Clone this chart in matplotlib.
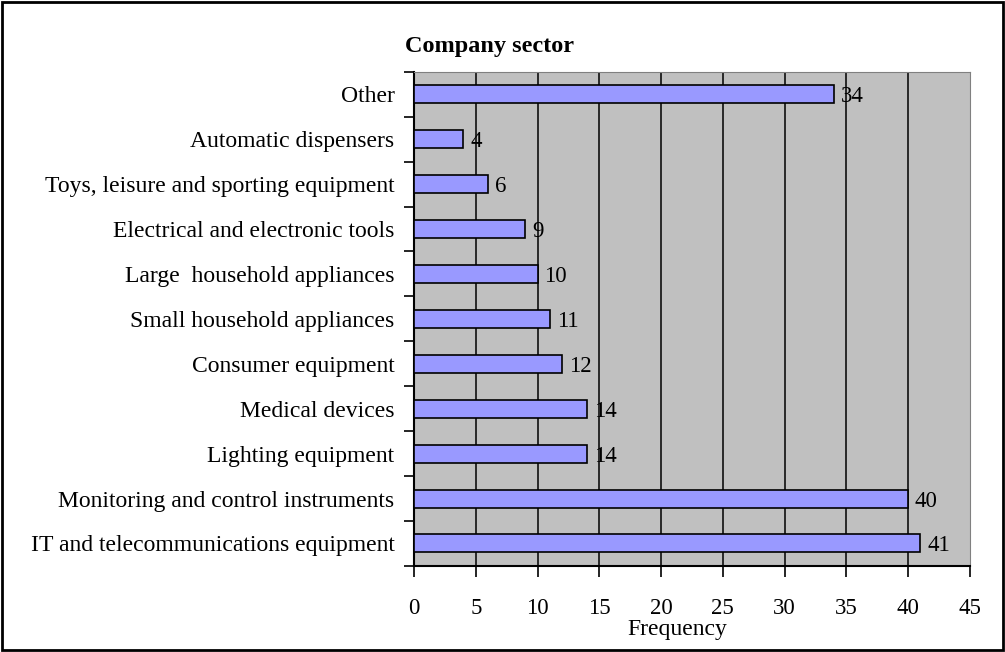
import numpy as np
import matplotlib.pyplot as plt
from matplotlib.patches import Rectangle

plt.rcParams['font.family'] = ['Liberation Serif', 'DejaVu Serif']

sectors = ['IT and telecommunications equipment', 'Monitoring and control instruments',
           'Lighting equipment', 'Medical devices', 'Consumer equipment',
           'Small household appliances', 'Large  household appliances',
           'Electrical and electronic tools', 'Toys, leisure and sporting equipment',
           'Automatic dispensers', 'Other']
freq = [41, 40, 14, 14, 12, 11, 10, 9, 6, 4, 34]
xticks = [0, 5, 10, 15, 20, 25, 30, 35, 40, 45]

fig = plt.figure(figsize=(10.05, 6.52), dpi=100)
ax = fig.add_axes([0.412, 0.132, 0.553, 0.758])
ax.set_facecolor('#c0c0c0')

y = np.arange(len(sectors))
ax.barh(y, freq, height=0.4, color='#9999ff', edgecolor='black', linewidth=1.2, zorder=3)
for yi, v in zip(y, freq):
    ax.text(v + 0.55, yi, str(v), va='center_baseline', ha='left', fontsize=16.5, zorder=4)

ax.set_xlim(0, 45)
ax.set_ylim(-0.5, len(sectors) - 0.5)
ax.set_xticks(xticks)
ax.set_xticklabels([str(t) for t in xticks], fontsize=16.5)
ax.set_yticks(y)
ax.set_yticklabels(sectors, fontsize=17, va='center_baseline')
ax.set_yticks(np.arange(-0.5, len(sectors)), minor=True)
ax.tick_params(axis='y', which='major', length=0, pad=14)
ax.tick_params(axis='y', which='minor', length=7, width=1.2, color='black')
ax.tick_params(axis='x', which='major', length=8, width=1.2, pad=15)

for t in xticks[1:-1]:
    ax.axvline(t, color='black', lw=1.1, zorder=2)

ax.spines['left'].set_linewidth(1.5)
ax.spines['bottom'].set_linewidth(1.5)
ax.spines['top'].set_color('#808080')
ax.spines['right'].set_color('#808080')

ax.set_xlabel('Frequency', fontsize=17, labelpad=0)
ax.xaxis.set_label_coords(0.474, -0.128, transform=ax.transAxes)
ax.xaxis.label.set_va('center')
fig.text(0.403, 0.928, 'Company sector', fontsize=17.5, fontweight='bold', ha='left', va='center')

fig.patches.append(Rectangle((0.002, 0.003), 0.996, 0.994, transform=fig.transFigure,
                             fill=False, edgecolor='black', linewidth=2))

fig.savefig('out.png', dpi=100)
